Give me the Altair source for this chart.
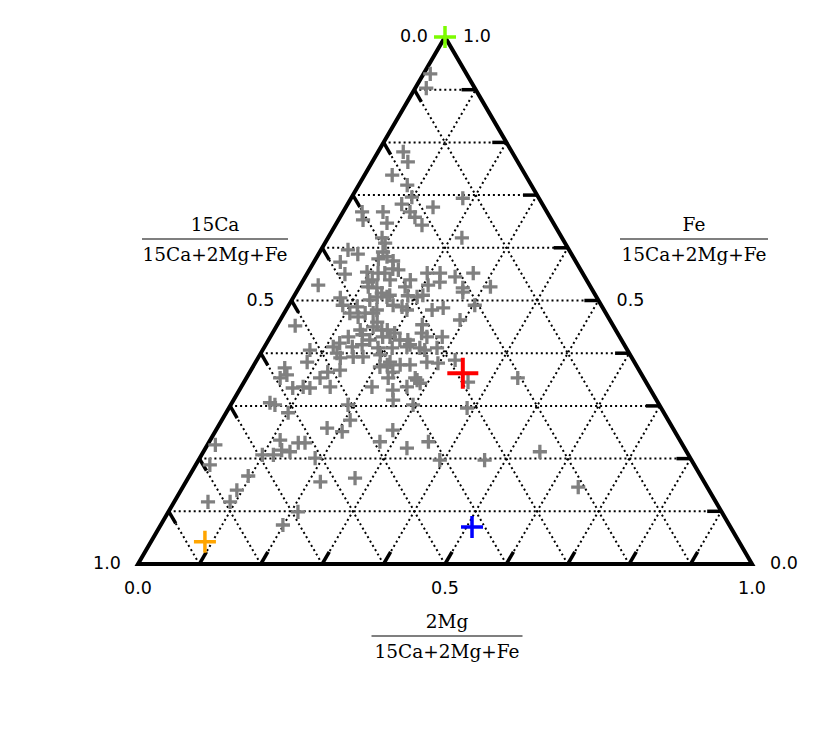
import altair as alt
import pandas as pd

# ---- data (ternary fractions: 2Mg/(15Ca+2Mg+Fe) and Fe/(15Ca+2Mg+Fe)) ----
mg2 = [0.011, 0.018, 0.041, 0.058, 0.045, 0.079, 0.098, 0.088, 0.142, 0.182,
       0.031, 0.065, 0.109, 0.122, 0.141, 0.082, 0.040, 0.088, 0.218, 0.044,
       0.064, 0.114, 0.128, 0.043, 0.103, 0.102, 0.062, 0.029, 0.096, 0.135,
       0.145, 0.107, 0.127, 0.141, 0.136, 0.152, 0.174, 0.195, 0.216, 0.224,
       0.208, 0.244, 0.270, 0.267, 0.311, 0.077, 0.113, 0.132, 0.107, 0.148,
       0.170, 0.197, 0.201, 0.238, 0.254, 0.303, 0.293, 0.030, 0.160, 0.184,
       0.236, 0.195, 0.214, 0.255, 0.280, 0.127, 0.140, 0.165, 0.143, 0.112,
       0.077, 0.232, 0.264, 0.282, 0.088, 0.127, 0.155, 0.185, 0.209, 0.271,
       0.145, 0.199, 0.183, 0.158, 0.148, 0.157, 0.119, 0.134, 0.154, 0.170,
       0.186, 0.209, 0.235, 0.243, 0.254, 0.219, 0.238, 0.207, 0.233, 0.231,
       0.275, 0.288, 0.254, 0.279, 0.298, 0.323, 0.365, 0.213, 0.145, 0.145,
       0.120, 0.191, 0.297, 0.388, 0.084, 0.053, 0.063, 0.055, 0.085, 0.101,
       0.113, 0.127, 0.124, 0.062, 0.072, 0.101, 0.179, 0.196, 0.217, 0.209,
       0.207, 0.278, 0.114, 0.146, 0.157, 0.126, 0.141, 0.117, 0.099, 0.188,
       0.013, 0.023, 0.096, 0.091, 0.091, 0.055, 0.219, 0.272, 0.211, 0.199,
       0.250, 0.260, 0.280, 0.270, 0.442, 0.288, 0.328, 0.357, 0.393, 0.466,
       0.548, 0.644, 0.112, 0.112, 0.115, 0.126, 0.140, 0.172, 0.124, 0.175,
       0.227, 0.186, 0.098]
fe = [0.930, 0.903, 0.782, 0.763, 0.738, 0.719, 0.696, 0.683, 0.677, 0.694,
      0.668, 0.668, 0.668, 0.658, 0.643, 0.647, 0.653, 0.619, 0.619, 0.596,
      0.588, 0.583, 0.575, 0.573, 0.592, 0.579, 0.550, 0.529, 0.554, 0.560,
      0.558, 0.535, 0.524, 0.539, 0.507, 0.507, 0.539, 0.552, 0.552, 0.535,
      0.529, 0.545, 0.552, 0.524, 0.526, 0.505, 0.488, 0.476, 0.476, 0.482,
      0.491, 0.482, 0.507, 0.482, 0.486, 0.491, 0.463, 0.452, 0.459, 0.444,
      0.454, 0.431, 0.425, 0.431, 0.431, 0.431, 0.444, 0.425, 0.412, 0.412,
      0.406, 0.412, 0.406, 0.410, 0.491, 0.501, 0.510, 0.509, 0.510, 0.516,
      0.476, 0.438, 0.431, 0.450, 0.435, 0.416, 0.419, 0.391, 0.393, 0.393,
      0.410, 0.410, 0.416, 0.438, 0.410, 0.383, 0.378, 0.374, 0.364, 0.353,
      0.353, 0.343, 0.378, 0.383, 0.381, 0.387, 0.345, 0.336, 0.368, 0.336,
      0.353, 0.302, 0.302, 0.296, 0.383, 0.372, 0.359, 0.353, 0.334, 0.336,
      0.334, 0.364, 0.400, 0.306, 0.302, 0.287, 0.258, 0.397, 0.378, 0.273,
      0.251, 0.232, 0.235, 0.230, 0.230, 0.216, 0.213, 0.207, 0.207, 0.201,
      0.226, 0.188, 0.167, 0.140, 0.118, 0.118, 0.156, 0.163, 0.099, 0.074,
      0.330, 0.311, 0.349, 0.336, 0.353, 0.254, 0.220, 0.232, 0.197, 0.197,
      0.213, 0.146, 0.539, 0.526, 0.552, 0.552, 0.514, 0.526, 0.469, 0.444,
      0.425, 0.488, 0.609]

special_names = ["top", "red", "blue", "orange"]
special_mg2 = [0.0, 0.348, 0.509, 0.088]
special_fe = [1.0, 0.362, 0.070, 0.042]

tick_values = [0.1, 0.2, 0.3, 0.4, 0.5, 0.6, 0.7, 0.8, 0.9]
label_values = [0.0, 0.5, 1.0]

# ---- styles ----
special_colors = {"top": "#7CFC00", "red": "#FF0000", "blue": "#0000FF", "orange": "#FFA500"}
special_sizes = {"top": 484, "red": 961, "blue": 484, "orange": 484}
special_widths = {"top": 3.5, "red": 4, "blue": 3.5, "orange": 3.5}
CROSS = "M-1,0L1,0M0,-1L0,1"
TICK_LEN = 0.023

XS = alt.Scale(domain=[-130 / 614, 684 / 614], nice=False, zero=False)
YS = alt.Scale(domain=[-166 / 527, 556 / 527], nice=False, zero=False)


def xenc(field="x"):
    return alt.X(f"{field}:Q", scale=XS, axis=None)


def yenc(field="y"):
    return alt.Y(f"{field}:Q", scale=YS, axis=None)


# grid lines
grid_rows = []
for t in tick_values:
    grid_rows.append(dict(x=t / 2, y=t, x2=1 - t / 2, y2=t))            # Fe = t
    grid_rows.append(dict(x=t, y=0.0, x2=t + (1 - t) / 2, y2=1 - t))     # 2Mg = t
    grid_rows.append(dict(x=1 - t, y=0.0, x2=(1 - t) / 2, y2=1 - t))     # 15Ca = t
grid_df = pd.DataFrame(grid_rows)

grid = alt.Chart(grid_df).mark_rule(
    color="black", strokeWidth=2, strokeDash=[2, 3]
).encode(x=xenc(), y=yenc(), x2="x2:Q", y2="y2:Q")

# triangle outline
tri_pts = [(0.5, 0.0), (1.0, 0.0), (0.5, 1.0), (0.0, 0.0), (0.5, 0.0)]
tri_df = pd.DataFrame([dict(i=i, x=p[0], y=p[1]) for i, p in enumerate(tri_pts)])
tri = alt.Chart(tri_df).mark_line(
    color="black", strokeWidth=4, strokeJoin="miter", strokeCap="butt"
).encode(x=xenc(), y=yenc(), order="i:Q")

# tick marks along grid directions
tick_rows = []
for t in tick_values:
    tick_rows.append(dict(x=1 - t / 2, y=t, x2=1 - t / 2 - TICK_LEN, y2=t))
    tick_rows.append(dict(x=(1 - t) / 2, y=1 - t, x2=(1 - t) / 2 + TICK_LEN / 2, y2=1 - t - TICK_LEN))
    tick_rows.append(dict(x=t, y=0.0, x2=t + TICK_LEN / 2, y2=TICK_LEN))
tick_df = pd.DataFrame(tick_rows)
ticks = alt.Chart(tick_df).mark_rule(color="black", strokeWidth=3.5, strokeCap="butt").encode(
    x=xenc(), y=yenc(), x2="x2:Q", y2="y2:Q")

# data points
pts = pd.DataFrame({"mg2": mg2, "fe": fe})
pts["x"] = pts["mg2"] + pts["fe"] / 2
pts["y"] = pts["fe"]
points = alt.Chart(pts).mark_point(
    shape=CROSS, filled=False, size=200, strokeWidth=3.3, color="#808080", opacity=1
).encode(x=xenc(), y=yenc())

sp = pd.DataFrame({"name": special_names, "mg2": special_mg2, "fe": special_fe})
sp["x"] = sp["mg2"] + sp["fe"] / 2
sp["y"] = sp["fe"]
sp["sz"] = sp["name"].map(special_sizes)
sp["sw"] = sp["name"].map(special_widths)
specials = alt.Chart(sp).mark_point(shape=CROSS, filled=False, opacity=1).encode(
    x=xenc(), y=yenc(),
    color=alt.Color("name:N", scale=alt.Scale(domain=special_names,
                                              range=[special_colors[n] for n in special_names]),
                    legend=None),
    size=alt.Size("sz:Q", scale=None),
    strokeWidth=alt.StrokeWidth("sw:Q", scale=None),
)

# tick labels
lab_font = dict(font="DejaVu Sans", fontSize=17.5, color="black", baseline="middle", align="center")
bot_df = pd.DataFrame([dict(x=v, y=0.0, t=f"{v:.1f}") for v in label_values])
left_df = pd.DataFrame([dict(x=(1 - v) / 2, y=1 - v, t=f"{v:.1f}") for v in label_values])
right_df = pd.DataFrame([dict(x=1 - v / 2, y=v, t=f"{v:.1f}") for v in label_values])
bot_lab = alt.Chart(bot_df).mark_text(dy=25, **lab_font).encode(x=xenc(), y=yenc(), text="t:N")
left_lab = alt.Chart(left_df).mark_text(dx=-31, **lab_font).encode(x=xenc(), y=yenc(), text="t:N")
right_lab = alt.Chart(right_df).mark_text(dx=32, **lab_font).encode(x=xenc(), y=yenc(), text="t:N")

# axis titles (fractions)
denom = "15Ca+2Mg+Fe"
title_df = pd.DataFrame([
    dict(x=77 / 614, y=325 / 527, num="15Ca", den=denom, half=73 / 614),
    dict(x=556 / 614, y=325 / 527, num="Fe", den=denom, half=74 / 614),
    dict(x=309 / 614, y=-72 / 527, num="2Mg", den=denom, half=75.5 / 614),
])
title_df["xa"] = title_df["x"] - title_df["half"]
title_df["xb"] = title_df["x"] + title_df["half"]
tfont = dict(font="DejaVu Serif", fontSize=18.5, color="black", align="center", baseline="alphabetic")
num_t = alt.Chart(title_df).mark_text(dy=-8.5, **tfont).encode(x=xenc(), y=yenc(), text="num:N")
den_t = alt.Chart(title_df).mark_text(dy=22, **tfont).encode(x=xenc(), y=yenc(), text="den:N")
bar_t = alt.Chart(title_df).mark_rule(color="black", strokeWidth=1.2).encode(
    x=xenc("xa"), x2="xb:Q", y=yenc())

chart = alt.layer(
    grid, tri, ticks, points, specials, bot_lab, left_lab, right_lab, num_t, den_t, bar_t
).properties(
    width=814, height=722, padding=0, autosize=alt.AutoSizeParams(type="none")
).configure_view(stroke=None)

chart.save("out.html", embed_options={"renderer": "svg", "actions": False})
